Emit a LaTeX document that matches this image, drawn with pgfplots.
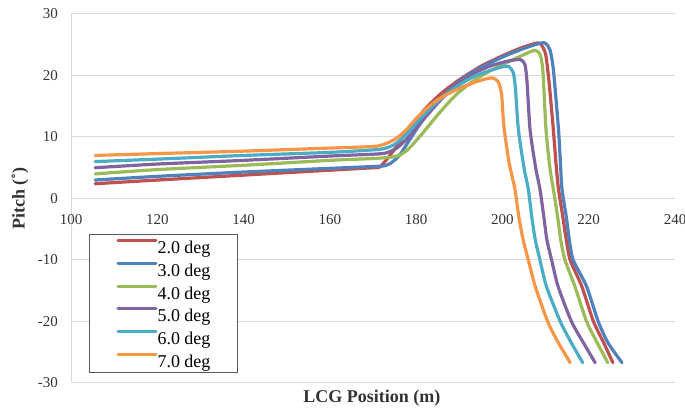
\documentclass[border=0pt]{standalone}
\usepackage{fontspec}
\setmainfont{Liberation Serif}
\usepackage{pgfplots}
\pgfplotsset{compat=1.18}
\definecolor{cRed}{HTML}{C0504D}
\definecolor{cBlue}{HTML}{4F81BD}
\definecolor{cGreen}{HTML}{9BBB59}
\definecolor{cPurple}{HTML}{8064A2}
\definecolor{cCyan}{HTML}{4BACC6}
\definecolor{cOrange}{HTML}{F79646}
\definecolor{gridgrey}{HTML}{D9D9D9}
\definecolor{boxgrey}{HTML}{595959}
\definecolor{txt}{HTML}{333333}
\begin{document}
\begin{tikzpicture}
\begin{axis}[
  scale only axis, width=604bp, height=369bp,
  xmin=100, xmax=240, ymin=-30, ymax=30,
  xtick={100,120,...,240}, ytick={-30,-20,...,30},
  axis x line=middle, axis y line=left,
  axis line style={draw=gridgrey, line width=1bp, -},
  ymajorgrids, grid style={draw=gridgrey, line width=1bp},
  major tick length=0pt,
  clip mode=individual,
  hide obscured x ticks=false, hide obscured y ticks=false,
  /pgf/number format/assume math mode=true,
  ticklabel style={font=\fontsize{15bp}{18bp}\selectfont, text=txt},
  xticklabel style={anchor=north, inner sep=0pt, yshift=-16bp},
  yticklabel style={anchor=east, inner sep=0pt, xshift=-13bp},
  legend cell align=left,
  legend style={at={(rel axis cs:0.0298,0.404)}, anchor=north west,
    draw=boxgrey, line width=1bp, fill=white,
    inner xsep=27bp, inner ysep=4bp, row sep=6.8bp,
    font=\fontsize{18bp}{20bp}\selectfont,
    nodes={inner sep=0pt, text height=15bp, text depth=1bp}},
  legend image code/.code={\draw[#1, line width=3bp] (0bp,6bp) -- (38bp,6bp);},
  every axis plot/.append style={line width=3.2bp, line join=round, line cap=round, smooth, tension=0.4},
]
\addplot[cRed] coordinates {(105.6,2.4)(120,3.0)(140,3.8)(160,4.6)(170,5.0)(171.5,5.1)(173,6.2)(175,8.0)(178,11.0)(182,14.5)(186,17.2)(190,19.3)(195,21.5)(200,23.2)(204,24.4)(207.5,25.2)(208.8,25.2)(210,23.5)(210.8,19)(211.8,11.2)(212.5,5)(213.0,1.5)(214,-3)(214.8,-6.7)(215.7,-10)(218.4,-14.3)(221.1,-20)(223.5,-23.5)(225.6,-26.7)};
\addlegendentry{2.0 deg}
\addplot[cBlue] coordinates {(105.6,3.0)(120,3.6)(140,4.3)(160,4.9)(170,5.2)(172.5,5.3)(174,5.7)(176,6.9)(178,9.0)(181,12.2)(185,15.8)(189,18.5)(193,20.5)(197,22.0)(201,23.3)(205,24.4)(208,25.1)(209.8,25.3)(211,24.2)(211.8,21)(213,11.2)(213.5,5)(213.8,1.5)(214.8,-3)(215.5,-6.7)(216.4,-10)(219.5,-14.3)(222.2,-20)(224.5,-23.5)(227.7,-26.7)};
\addlegendentry{3.0 deg}
\addplot[cGreen] coordinates {(105.6,4.0)(120,4.7)(140,5.4)(160,6.2)(170,6.5)(174,6.7)(176,7.0)(178,7.9)(181,10.2)(185,13.6)(189,16.7)(193,19.0)(197,20.7)(201,22.1)(205,23.4)(207.6,24.1)(208.8,23.3)(209.4,20.5)(210.1,11.2)(211,5)(211.8,1.5)(212.8,-3)(213.5,-6.7)(214.5,-10)(216.8,-14.3)(219.5,-20)(222,-23.5)(224.4,-26.7)};
\addlegendentry{4.0 deg}
\addplot[cPurple] coordinates {(105.6,5.0)(120,5.6)(140,6.2)(160,6.9)(170,7.2)(173,7.4)(175.5,8.2)(178,9.8)(181,12.3)(185,15.5)(189,18.3)(193,20.2)(197,21.5)(201,22.3)(204.1,22.6)(205.2,21.8)(205.7,19)(206.4,11.2)(207.7,5)(208.7,1.5)(209.6,-3)(210.3,-6.7)(211.4,-10)(212.9,-14.3)(216,-20)(218.8,-23.5)(221.5,-26.7)};
\addlegendentry{5.0 deg}
\addplot[cCyan] coordinates {(105.6,6.0)(120,6.4)(140,7.0)(160,7.5)(170,7.9)(172.5,8.1)(175,8.8)(178,10.6)(181,13.0)(185,15.8)(189,18.0)(193,19.7)(197,20.8)(200,21.4)(201.4,21.5)(202.5,20.5)(203.0,18)(203.7,11.2)(205,5)(206,1.5)(206.8,-3)(207.6,-6.7)(208.7,-10)(210.2,-14.3)(213.4,-20)(216,-23.5)(218.6,-26.7)};
\addlegendentry{6.0 deg}
\addplot[cOrange] coordinates {(105.6,7.0)(120,7.3)(140,7.7)(160,8.2)(170,8.45)(172.5,8.8)(175,9.6)(177.5,11.0)(180,13.0)(183,15.0)(186,16.5)(190,17.9)(194,19.0)(196.5,19.5)(197.8,19.6)(199,19.0)(199.8,17.0)(200.3,12)(201.5,6)(202.9,1.5)(203.8,-3)(204.8,-6.7)(206,-10)(207.6,-14.3)(210.6,-20.2)(213,-23.5)(215.7,-26.7)};
\addlegendentry{7.0 deg}
\node[xshift=-51bp, rotate=90, font=\bfseries\fontsize{18bp}{20bp}\selectfont, text=txt] at (rel axis cs:0,0.5) {Pitch (˚)};
\node[yshift=-15bp, font=\bfseries\fontsize{18bp}{20bp}\selectfont, text=txt] at (rel axis cs:0.498,0) {LCG Position (m)};
\coordinate (ll) at (rel axis cs:0,0);
\coordinate (ur) at (rel axis cs:1,1);
\end{axis}
\pgfresetboundingbox
\path[use as bounding box] ([xshift=-71bp,yshift=-26bp]ll) rectangle ([xshift=10bp,yshift=14bp]ur);
\end{tikzpicture}
\end{document}
